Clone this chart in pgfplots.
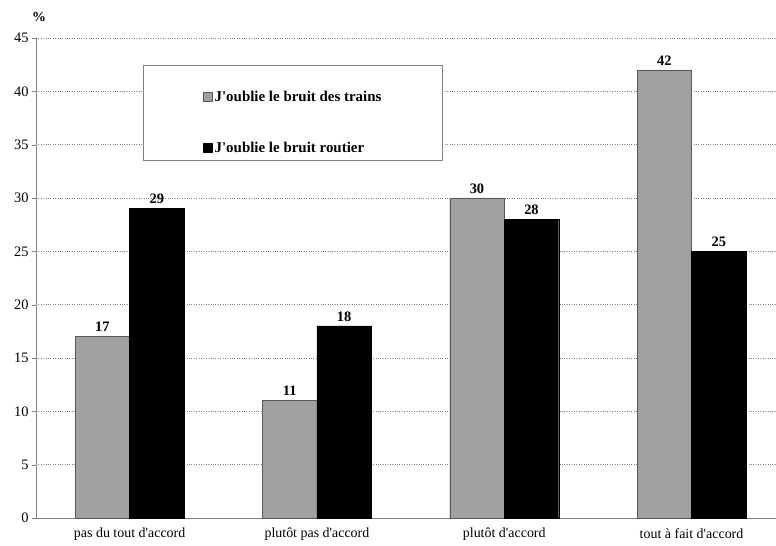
\documentclass[border=0pt]{standalone}
\usepackage{fontspec}
\setmainfont{Liberation Serif}
\usepackage{pgfplots}
\pgfplotsset{compat=1.18}
\definecolor{barg}{HTML}{A0A0A0}
\definecolor{axg}{HTML}{808080}
\newcommand{\q}{\textquotesingle}
\begin{document}
\begin{tikzpicture}[x=1bp,y=1bp]
\path[use as bounding box] (-36,-28) rectangle (740,518);
\begin{axis}[
  at={(0,0)}, anchor=south west,
  scale only axis, width=740bp, height=480bp,
  xmin=-0.5, xmax=3.451, ymin=0, ymax=45,
  ybar=0pt, bar width=54.5bp,
  axis x line*=bottom, axis y line*=left,
  axis line style={axg, line width=0.6pt},
  ytick={0,5,...,45},
  xtick={0,1,2,3},
  xticklabels={pas du tout d\q accord, plutôt pas d\q accord, plutôt d\q accord, tout à fait d\q accord},
  major x tick style={draw=none},
  extra x ticks={0.5,1.5,2.5},
  extra x tick labels={},
  extra x tick style={major tick length=6bp, tick align=center, tick style={axg}},
  y tick style={axg},
  tick align=outside, major tick length=4bp,
  ymajorgrids, grid style={axg, dotted, line width=0.5pt},
  extra x tick style={grid=none, xmajorgrids=false},
  /pgf/number format/assume math mode=true,
  tick label style={font=\fontsize{14.5}{16}\selectfont},
  xticklabel style={yshift=-5bp, font=\fontsize{14}{15}\selectfont, inner ysep=1bp},
  nodes near coords,
  nodes near coords style={font=\bfseries\fontsize{14.5}{16}\selectfont, inner sep=4.5bp},
  legend style={draw=none, fill=none, at={(rel axis cs:0.2257,0.894)}, anchor=north west,
    font=\bfseries\fontsize{15}{17}\selectfont, inner sep=0pt, row sep=35bp, cells={anchor=west}},
  legend image code/.code={\fill[#1] (0bp,-4bp) rectangle (9bp,5bp);},
  clip=false,
]
\addplot[fill=barg, draw=gray!70!black, line width=0.4pt] coordinates {(0,17) (1,11) (2,30) (3,42)};
\addplot[fill=black, draw=black] coordinates {(0,29) (1,18) (2,28) (3,25)};
\legend{J\q oublie le bruit des trains, J\q oublie le bruit routier}
\draw[axg, line width=0.5pt, fill=white] (rel axis cs:0.1446,0.9438) rectangle (rel axis cs:0.5486,0.7458);
\node[font=\bfseries\fontsize{14}{16}\selectfont] at (rel axis cs:0.0041,1.0437) {\%};
\end{axis}
\end{tikzpicture}
\end{document}
